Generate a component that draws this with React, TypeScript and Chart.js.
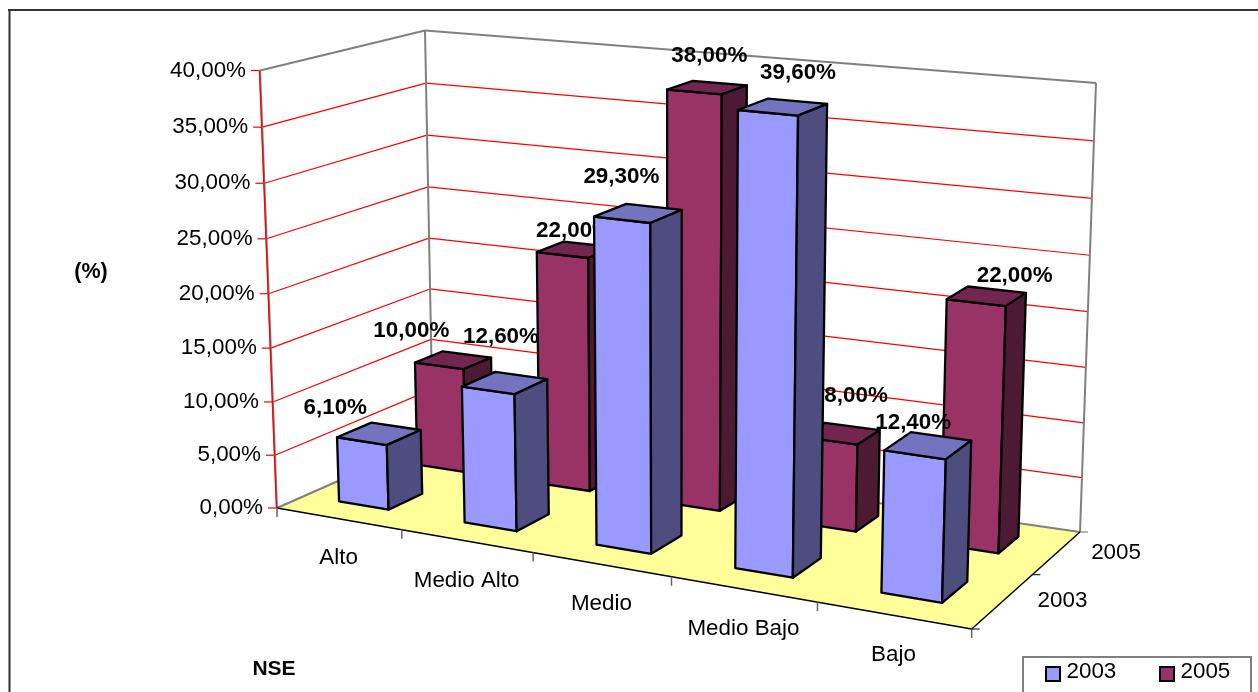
import React, { useEffect, useRef } from "react";
import { Chart, BarController, registerables } from "chart.js";

// Survey shares by socio-economic level (NSE), two survey years.
const categories = ["Alto", "Medio Alto", "Medio", "Medio Bajo", "Bajo"];
const values2003 = [6.1, 12.6, 29.3, 39.6, 12.4];
const values2005 = [10.0, 22.0, 38.0, 8.0, 22.0];
const seriesNames = ["2003", "2005"];
const seriesColors = ["#9999FF", "#993366"];

// Hand placement of the value labels relative to each column's top face.
const labelNudge2003: [number, number][] = [[-44, -26], [-4, -46], [-17, -36], [15, -34], [-15, -23]];
const labelNudge2005: [number, number][] = [[-42, -29], [-2, -19], [2, -32], [15, -38], [28, -20]];
const labelNudges = [labelNudge2003, labelNudge2005];

const FONT = '"Liberation Sans", Arial, sans-serif';
const AXIS_FONT = `22.4px ${FONT}`;
const VALUE_FONT = `bold 22.4px ${FONT}`;

// Corners of the projected plot box, indexed [u][v][w]:
// u runs along the categories, v along the series, w up the value axis.
const CORNERS = [
  [
    [[277, 508], [260, 70.5]],
    [[433, 439], [425, 30.5]],
  ],
  [
    [[971.7, 629], [986, 141]],
    [[1080, 532], [1096, 83]],
  ],
];
const WEIGHT_U = -0.124;
const WEIGHT_V = 0.24;
const WEIGHT_W = -0.04;
const DEPTH_FRACTION = 0.4;
// Small sideways offset of each series row along the category direction.
const ROW_SHIFT_U = [-0.004, -0.007];

// Perspective-correct blend of the eight box corners.
function project(u: number, v: number, w: number): [number, number] {
  let sx = 0, sy = 0, sh = 0;
  for (let i = 0; i < 2; i++)
    for (let j = 0; j < 2; j++)
      for (let k = 0; k < 2; k++) {
        const h = 1 + WEIGHT_U * i + WEIGHT_V * j + WEIGHT_W * k;
        const b = (i ? u : 1 - u) * (j ? v : 1 - v) * (k ? w : 1 - w) * h;
        sx += b * CORNERS[i][j][k][0];
        sy += b * CORNERS[i][j][k][1];
        sh += b;
      }
  return [sx / sh, sy / sh];
}

function shade(hex: string, f: number) {
  const n = parseInt(hex.slice(1), 16);
  const c = (s: number) => Math.round(((n >> s) & 255) * f);
  return `rgb(${c(16)},${c(8)},${c(0)})`;
}

function poly(ctx: CanvasRenderingContext2D, pts: [number, number][], fill?: string, stroke?: string, lw = 2.3) {
  ctx.beginPath();
  pts.forEach((p, i) => (i ? ctx.lineTo(p[0], p[1]) : ctx.moveTo(p[0], p[1])));
  ctx.closePath();
  if (fill) {
    ctx.fillStyle = fill;
    ctx.fill();
  }
  if (stroke) {
    ctx.strokeStyle = stroke;
    ctx.lineWidth = lw;
    ctx.lineJoin = "round";
    ctx.stroke();
  }
}

function line(ctx: CanvasRenderingContext2D, a: number[], b: number[], color: string, lw: number) {
  ctx.beginPath();
  ctx.moveTo(a[0], a[1]);
  ctx.lineTo(b[0], b[1]);
  ctx.strokeStyle = color;
  ctx.lineWidth = lw;
  ctx.stroke();
}

function text(ctx: CanvasRenderingContext2D, s: string, x: number, y: number, font: string, align: CanvasTextAlign = "center") {
  ctx.font = font;
  ctx.fillStyle = "#000";
  ctx.textAlign = align;
  ctx.textBaseline = "middle";
  ctx.fillText(s, x, y);
}

const percent = (v: number) => `${v.toFixed(2).replace(".", ",")}%`;

// Bar controller that renders each bar as a projected box, with its label.
class Box3DController extends BarController {
  static id = "box3d";
  static defaults = BarController.defaults;
  static overrides = BarController.overrides;

  draw() {
    const ctx = this.chart.ctx;
    const meta = this._cachedMeta;
    const xs = meta.xScale;
    const ys = meta.yScale;
    const color = this.getDataset().backgroundColor as string;
    const seriesCount = this.chart.data.datasets.length;
    const vc = (this.index + 0.5) / seriesCount;
    const dv = DEPTH_FRACTION / seriesCount / 2;
    meta.data.forEach((el: any, i: number) => {
      const uc = (el.x - xs.left) / xs.width + ROW_SHIFT_U[this.index];
      const du = el.width / 2 / xs.width;
      const w = (ys.bottom - el.y) / (ys.bottom - ys.top);
      const P = (a: number, b: number, c: number) => project(uc + a * du, vc + b * dv, c);
      ctx.save();
      poly(ctx, [P(-1, -1, 0), P(1, -1, 0), P(1, -1, w), P(-1, -1, w)], color, "#000");
      poly(ctx, [P(-1, -1, w), P(1, -1, w), P(1, 1, w), P(-1, 1, w)], shade(color, 0.75), "#000");
      poly(ctx, [P(1, -1, 0), P(1, 1, 0), P(1, 1, w), P(1, -1, w)], shade(color, 0.5), "#000");
      const top = project(uc, vc, w);
      const nudge = labelNudges[this.index][i];
      const value = (this.getDataset().data as number[])[i];
      text(ctx, percent(value), top[0] + nudge[0], top[1] + nudge[1], VALUE_FONT);
      ctx.restore();
    });
  }
}

Chart.register(...registerables, Box3DController);

// Frame, walls, floor, gridlines and axis text of the projected box.
const boxFrame = {
  id: "boxFrame",
  beforeDatasetsDraw(chart: any) {
    const { ctx } = chart;
    const ys = chart.scales.y;
    const xs = chart.scales.x;
    ctx.save();
    ctx.lineCap = "butt";

    line(ctx, [9.5, 10], [9.5, 700], "#333", 2);
    line(ctx, [8, 10], [1270, 10], "#333", 2);

    poly(ctx, [project(0, 0, 0), project(1, 0, 0), project(1, 1, 0), project(0, 1, 0)], "#FFFF99");

    ys.ticks.forEach((t: any) => {
      const w = (ys.bottom - ys.getPixelForValue(t.value)) / (ys.bottom - ys.top);
      const a = project(0, 0, w), b = project(0, 1, w), c = project(1, 1, w);
      if (w > 0 && w < 1) {
        line(ctx, a, b, "#FF0000", 1.2);
        line(ctx, b, c, "#FF0000", 1.2);
      }
      line(ctx, [a[0] - 9, a[1]], a, "#FF0000", 1.2);
      text(ctx, percent(t.value), a[0] - 14, a[1], AXIS_FONT, "right");
    });

    // Wall and floor outlines
    line(ctx, project(0, 0, 1), project(0, 1, 1), "#808080", 2);
    line(ctx, project(0, 1, 1), project(1, 1, 1), "#808080", 2);
    line(ctx, project(0, 1, 1), project(0, 1, 0), "#808080", 2);
    line(ctx, project(1, 1, 1), project(1, 1, 0), "#808080", 2);
    line(ctx, project(0, 0, 0), project(0, 1, 0), "#808080", 2);
    line(ctx, project(0, 1, 0), project(1, 1, 0), "#808080", 2);
    line(ctx, project(0, 0, 1), project(0, 0, 0), "#808080", 2);
    const a0 = project(0, 0, 1), a1 = project(0, 0, 0);
    line(ctx, [a0[0] - 0.5, a0[1]], [a1[0] - 0.5, a1[1]], "#FF0000", 1.4);
    line(ctx, project(0, 0, 0), project(1, 0, 0), "#000", 1.5);
    line(ctx, project(1, 0, 0), project(1, 1, 0), "#000", 1.5);

    // Category ticks and labels along the front edge
    const n = categories.length;
    for (let i = 0; i <= n; i++) {
      const p = project(i / n, 0, 0);
      line(ctx, p, [p[0], p[1] + 9], "#666", 1.5);
    }
    categories.forEach((_, i) => {
      const u = (xs.getPixelForValue(i) - xs.left) / xs.width;
      const p = project(u, 0, 0);
      text(ctx, xs.getLabelForValue(i), p[0], p[1] + 39.5, AXIS_FONT);
    });

    // Series ticks and labels along the right edge
    const m = seriesNames.length;
    for (let j = 0; j <= m; j++) {
      const p = project(1, j / m, 0);
      line(ctx, p, [p[0] + 8, p[1]], j === m ? "#808080" : "#222", 1.2);
    }
    seriesNames.forEach((name, j) => {
      const p = project(1, (j + 0.5) / m, 0);
      text(ctx, name, p[0] + 58.5, p[1] + 1.2, AXIS_FONT);
    });

    text(ctx, "(%)", 91, 272, `bold 21.5px ${FONT}`);
    text(ctx, "NSE", 274, 669, `bold 21px ${FONT}`);
    ctx.restore();
  },
  afterDatasetsDraw(chart: any) {
    const { ctx } = chart;
    ctx.save();
    ctx.lineJoin = "miter";
    ctx.strokeStyle = "#808080";
    ctx.lineWidth = 2;
    ctx.fillStyle = "#fff";
    ctx.fillRect(1023, 657, 228, 60);
    ctx.strokeRect(1023, 657, 228, 60);
    const swatchX = [1046, 1160];
    chart.data.datasets.forEach((ds: any, i: number) => {
      ctx.fillStyle = ds.backgroundColor;
      ctx.fillRect(swatchX[i], 667, 14, 14);
      ctx.strokeStyle = "#000";
      ctx.strokeRect(swatchX[i], 667, 14, 14);
      text(ctx, ds.label, swatchX[i] + 20.5, 672, AXIS_FONT, "left");
    });
    ctx.restore();
  },
};

export default function App() {
  const ref = useRef<HTMLCanvasElement>(null);
  useEffect(() => {
    document.body.style.margin = "0";
    document.body.style.overflow = "hidden";
    const chart = new Chart(ref.current!, {
      type: "box3d" as any,
      data: {
        labels: categories,
        datasets: [
          { label: seriesNames[0], data: values2003, backgroundColor: seriesColors[0], clip: false as any },
          { label: seriesNames[1], data: values2005, backgroundColor: seriesColors[1], clip: false as any },
        ],
      },
      options: {
        animation: false,
        responsive: false,
        events: [],
        grouped: false,
        categoryPercentage: DEPTH_FRACTION,
        barPercentage: 1,
        plugins: { legend: { display: false }, tooltip: { enabled: false } },
        scales: {
          x: { type: "category", display: false, offset: true },
          y: { type: "linear", display: false, min: 0, max: 40, ticks: { stepSize: 5 } },
        },
      } as any,
      plugins: [boxFrame],
    });
    return () => chart.destroy();
  }, []);
  return (
    <div style={{ width: 1258, height: 692, overflow: "hidden", background: "#fff" }}>
      <canvas ref={ref} width={1258} height={692} style={{ display: "block" }} />
    </div>
  );
}
